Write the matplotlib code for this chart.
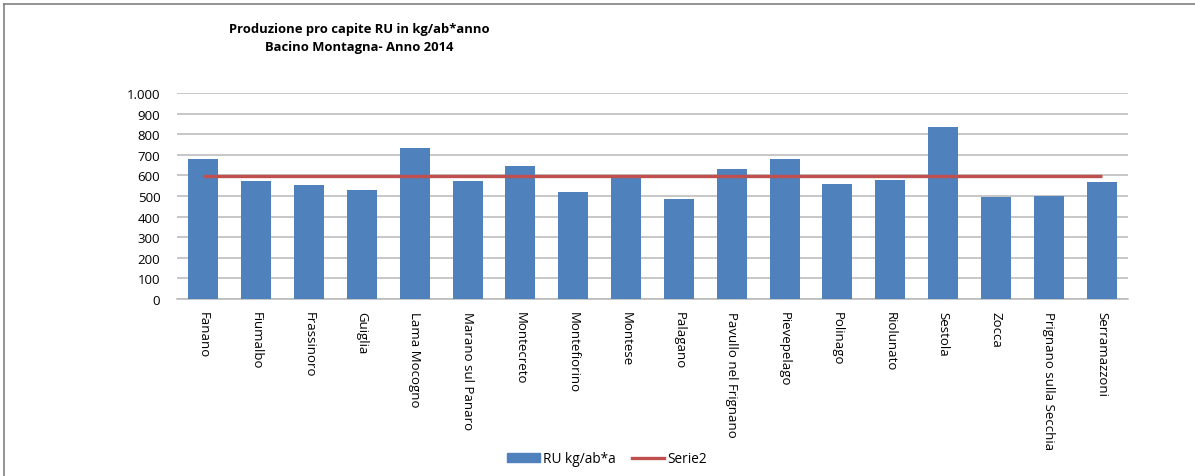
import matplotlib
matplotlib.use("Agg")
import matplotlib.pyplot as plt
from matplotlib.lines import Line2D
from matplotlib.patches import Patch
from matplotlib.ticker import FuncFormatter

plt.rcParams['font.family'] = ['Open Sans', 'DejaVu Sans']

comuni = ["Fanano", "Fiumalbo", "Frassinoro", "Guiglia", "Lama Mocogno",
          "Marano sul Panaro", "Montecreto", "Montefiorino", "Montese", "Palagano",
          "Pavullo nel Frignano", "Pievepelago", "Polinago", "Riolunato", "Sestola",
          "Zocca", "Prignano sulla Secchia", "Serramazzoni"]
ru_kg_ab_a = [681, 575, 555, 531, 731, 575, 646, 520, 597, 487,
              632, 680, 559, 580, 836, 493, 500, 568]
serie2 = [598] * len(comuni)
yticks = [0, 100, 200, 300, 400, 500, 600, 700, 800, 900, 1000]

W, H = 1195, 477
fig = plt.figure(figsize=(W / 100, H / 100), dpi=100)
ax = fig.add_axes([177 / W, 1 - 300 / H, (1128 - 177) / W, (300 - 94) / H])

x = list(range(len(comuni)))
ax.bar(x, ru_kg_ab_a, width=0.57, color="#4F81BD", zorder=2)
ax.plot(x, serie2, color="#C0504D", lw=2.4, zorder=3, solid_capstyle="butt")

ax.set_xlim(-0.5, len(comuni) - 0.5)
ax.set_ylim(0, 1000)
ax.set_yticks(yticks)
ax.yaxis.set_major_formatter(FuncFormatter(lambda v, p: f"{int(v):,}".replace(",", ".")))
ax.grid(axis="y", color="#B8B8B8", lw=1.1, zorder=0)
ax.set_axisbelow(True)
for s in ["top", "right", "left"]:
    ax.spines[s].set_visible(False)
ax.spines["bottom"].set_color("#B8B8B8")
ax.spines["bottom"].set_linewidth(1.1)
ax.spines["bottom"].set_zorder(1)
ax.tick_params(axis="both", length=0, labelsize=9.5, colors="#000000")
ax.tick_params(axis="y", pad=12)
ax.tick_params(axis="x", pad=9)
ax.set_xticks(x)
ax.set_xticklabels(comuni, rotation=-90, ha="center", va="top")

fig.text(359 / W, 1 - 30 / H, "Produzione pro capite RU in kg/ab*anno", ha="center",
         va="center", fontsize=9.4, fontweight="bold")
fig.text(359 / W, 1 - 47 / H, "Bacino Montagna- Anno 2014", ha="center",
         va="center", fontsize=9.4, fontweight="bold")

handles = [Patch(color="#4F81BD"), Line2D([0], [0], color="#C0504D", lw=2.4)]
fig.legend(handles, ["RU kg/ab*a", "Serie2"], loc="center", bbox_to_anchor=(607 / W, 1 - 460 / H),
           ncol=2, frameon=False, fontsize=9.8, handlelength=2.4, handleheight=0.6,
           columnspacing=1.2, handletextpad=0.2)

# chart border (top and left edges visible)
fig.add_artist(Line2D([4 / W, 4 / W], [0, 1 - 5 / H], color="#808080", lw=1.2, transform=fig.transFigure))
fig.add_artist(Line2D([4 / W, 1], [1 - 5 / H, 1 - 5 / H], color="#808080", lw=1.2, transform=fig.transFigure))

fig.savefig("out.png", dpi=100)
